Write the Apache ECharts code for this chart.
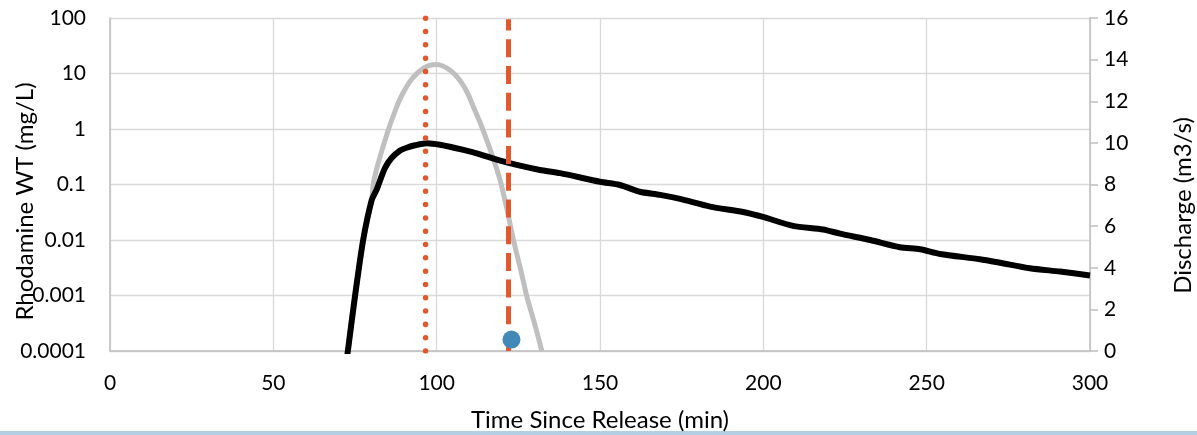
<!DOCTYPE html>
<html>
<head>
<meta charset="utf-8">
<script src="https://cdn.jsdelivr.net/npm/echarts@6/dist/echarts.min.js"></script>
<style>
html,body{margin:0;padding:0;background:#fff;}
#chart{width:1197px;height:435px;}
</style>
</head>
<body>
<div id="chart"></div>
<script>
// Rhodamine WT concentration (mg/L), left log axis
var concTime = [72.6, 75.0, 77.5, 80.1, 81.6, 82.7, 84.2, 86.2, 88.8, 90.8, 93.4, 97.0, 101.0, 108.2, 113.3, 118.4, 124.5, 131.6, 137.8, 150.0, 156.1, 162.2, 168.4, 174.5, 183.7, 193.8, 199.9, 209.1, 218.3, 223.5, 232.7, 241.8, 248.0, 254.1, 266.3, 272.4, 281.6, 290.8, 300.0];
var concValue = [0.00008, 0.00097, 0.010, 0.052, 0.080, 0.12, 0.20, 0.30, 0.41, 0.46, 0.51, 0.555, 0.52, 0.42, 0.35, 0.28, 0.225, 0.183, 0.16, 0.112, 0.098, 0.074, 0.065, 0.055, 0.040, 0.032, 0.026, 0.018, 0.0155, 0.013, 0.010, 0.0074, 0.0068, 0.0056, 0.0045, 0.0039, 0.0031, 0.0027, 0.0023];
// Discharge (m3/s), right axis
var qTime = [72.9, 75.0, 77.5, 80.1, 80.8, 84.2, 87.8, 90.0, 92.0, 94.0, 96.0, 98.0, 100.0, 102.0, 104.0, 106.0, 107.7, 109.5, 111.2, 113.3, 115.3, 117.4, 119.4, 121.5, 123.5, 125.6, 127.6, 130.0, 132.2];
var qValue = [0, 2.63, 5.33, 7.26, 8.22, 10.14, 11.75, 12.48, 12.99, 13.34, 13.59, 13.73, 13.76, 13.68, 13.50, 13.21, 12.87, 12.38, 11.75, 10.98, 10.14, 9.22, 8.22, 6.82, 5.33, 3.98, 2.63, 1.30, 0];
// vertical reference times (min)
var peakTime = 96.6;
var cutoffTime = 122.0;
// single point (discharge)
var pointTime = [122.9];
var pointValue = [0.55];
// axis ticks
var xTicks = [0, 50, 100, 150, 200, 250, 300];
var leftTickLabels = ['0.0001', '0.001', '0.01', '0.1', '1', '10', '100'];
var rightTicks = [0, 2, 4, 6, 8, 10, 12, 14, 16];
var logMin = 0.0001, logMax = 100;

function zip(a, b) { return a.map(function (v, i) { return [v, b[i]]; }); }

var FONT = 'Lato';
var chart = echarts.init(document.getElementById('chart'));
chart.setOption({
  animation: false,
  backgroundColor: '#fff',
  grid: { left: 110, right: 107, top: 18, bottom: 84, containLabel: false, outerBoundsMode: 'none' },
  xAxis: {
    type: 'value', min: xTicks[0], max: xTicks[xTicks.length - 1], interval: 50,
    name: 'Time Since Release (min)', nameLocation: 'middle', nameGap: 57, nameMoveOverlap: false,
    nameTextStyle: { fontFamily: FONT, fontSize: 24, color: '#000' },
    axisLine: { show: true, onZero: false, lineStyle: { color: '#bfbfbf', width: 1.5 } },
    axisTick: { show: false },
    axisLabel: { fontFamily: FONT, fontSize: 21, color: '#000', margin: 22 },
    splitLine: { show: true, lineStyle: { color: '#d9d9d9', width: 1.3 } }
  },
  yAxis: [{
    type: 'log', logBase: 10, min: logMin, max: logMax,
    name: 'Rhodamine WT (mg/L)', nameLocation: 'middle', nameGap: 73, nameRotate: 90, nameMoveOverlap: false,
    nameTextStyle: { fontFamily: FONT, fontSize: 24, color: '#000', padding: [0, 34, 0, 0] },
    axisLine: { show: true, lineStyle: { color: '#bfbfbf', width: 1.5 } },
    axisTick: { show: false },
    axisLabel: {
      fontFamily: FONT, fontSize: 21, color: '#000', margin: 24,
      formatter: function (v) { return leftTickLabels[Math.round(Math.log10(v)) + 4]; }
    },
    splitLine: { show: true, lineStyle: { color: '#d9d9d9', width: 1.3 } }
  }, {
    type: 'value', min: rightTicks[0], max: rightTicks[rightTicks.length - 1], interval: 2,
    position: 'right',
    name: 'Discharge (m3/s)', nameLocation: 'middle', nameGap: 81, nameRotate: 90, nameMoveOverlap: false,
    nameTextStyle: { fontFamily: FONT, fontSize: 24, color: '#000', padding: [0, 42, 0, 0] },
    axisLine: { show: true, lineStyle: { color: '#bfbfbf', width: 1.5 } },
    axisTick: { show: true, inside: false, length: 8, lineStyle: { color: '#bfbfbf', width: 1.5 } },
    axisLabel: { fontFamily: FONT, fontSize: 21, color: '#000', margin: 14 },
    splitLine: { show: false }
  }],
  graphic: [{
    type: 'rect', left: 0, top: 431, shape: { width: 1197, height: 4 },
    style: { fill: '#b3cfe4' }, silent: true
  }],
  series: [{
    name: 'Discharge', type: 'line', yAxisIndex: 1, data: zip(qTime, qValue),
    smooth: 0.3, showSymbol: false, symbol: 'none', clip: true,
    lineStyle: { color: '#bfbfbf', width: 5 }, z: 2
  }, {
    name: 'Rhodamine WT', type: 'line', yAxisIndex: 0, data: zip(concTime, concValue),
    smooth: 0.25, showSymbol: false, symbol: 'none', clip: true,
    lineStyle: { color: '#000', width: 6 }, z: 3
  }, {
    name: 'Peak', type: 'line', yAxisIndex: 0, data: [[peakTime, logMin], [peakTime, logMax]],
    showSymbol: false, symbol: 'none',
    lineStyle: { color: '#e2572b', width: 5.5, type: [0.01, 13.3], cap: 'round' }, z: 4
  }, {
    name: 'Cutoff', type: 'line', yAxisIndex: 0, data: [[cutoffTime, logMin], [cutoffTime, 95]],
    showSymbol: false, symbol: 'none',
    lineStyle: { color: '#e2572b', width: 5, type: [18, 8.7], cap: 'butt' }, z: 4
  }, {
    name: 'Point', type: 'scatter', yAxisIndex: 1, data: zip(pointTime, pointValue),
    symbol: 'circle', symbolSize: 18, itemStyle: { color: '#418ab8', opacity: 1 }, z: 5
  }]
});
</script>
</body>
</html>
